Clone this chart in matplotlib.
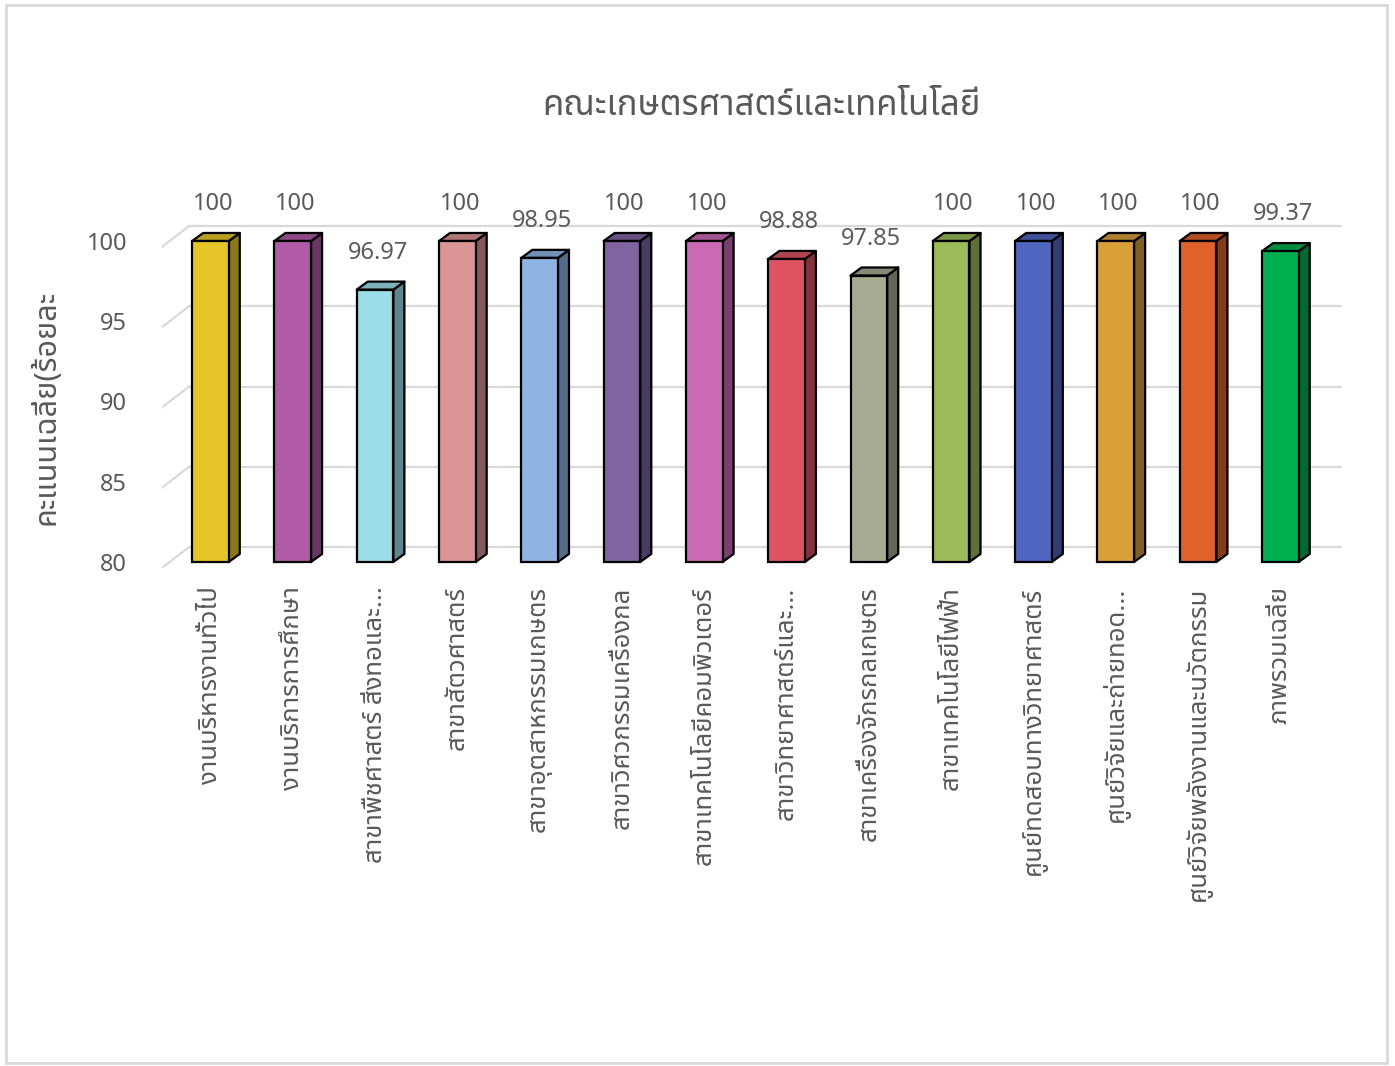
import matplotlib
matplotlib.use("Agg")
import matplotlib.pyplot as plt
from matplotlib.patches import Polygon, Rectangle

# ข้อมูล
categories = [
    "งานบริหารงานทั่วไป",
    "งานบริการการศึกษา",
    "สาขาพืชศาสตร์ สิ่งทอและ...",
    "สาขาสัตวศาสตร์",
    "สาขาอุตสาหกรรมเกษตร",
    "สาขาวิศวกรรมเครื่องกล",
    "สาขาเทคโนโลยีคอมพิวเตอร์",
    "สาขาวิทยาศาสตร์และ...",
    "สาขาเครื่องจักรกลเกษตร",
    "สาขาเทคโนโลยีไฟฟ้า",
    "ศูนย์ทดสอบทางวิทยาศาสตร์",
    "ศูนย์วิจัยและถ่ายทอด...",
    "ศูนย์วิจัยพลังงานและนวัตกรรม",
    "ภาพรวมเฉลี่ย",
]
scores = [100, 100, 96.97, 100, 98.95, 100, 100, 98.88, 97.85, 100, 100, 100, 100, 99.37]
colors = ["#E6C627", "#B05AA8", "#9DDDE8", "#DA9594", "#8DB4E3", "#8064A2", "#CC69B4",
          "#E05363", "#A6AA91", "#9BBB59", "#4F65BE", "#D9A038", "#E0622A", "#00B050"]
yticks = [80, 85, 90, 95, 100]

title = "คณะเกษตรศาสตร์และเทคโนโลยี"
ylabel = "คะแนนเฉลี่ย(ร้อยละ"

thai = ["Noto Sans Thai", "Sarabun", "DejaVu Sans"]
num = ["Noto Sans", "DejaVu Sans"]
grey = "#595959"
gridc = "#D9D9D9"

def shade(c, f):
    r, g, b = matplotlib.colors.to_rgb(c)
    return (r * f, g * f, b * f)

fig = plt.figure(figsize=(13.95, 10.66), dpi=100)
fig.patches.append(Rectangle((0.004, 0.003), 0.99, 0.992, transform=fig.transFigure,
                             fill=False, edgecolor=gridc, lw=2))
ax = fig.add_axes([0.1161, 0.4668, 0.846, 0.3297])
ax.set_xlim(-0.589, 13.75)
ax.set_ylim(79.6, 101.5)
for s in ax.spines.values():
    s.set_visible(False)

# เส้นกริดแบบ 3 มิติ
gx0, gx1, ddx, ddy0, ddy1 = -0.589, -0.26, 13.75, -0.37, 0.93
for t in yticks:
    ax.plot([gx0, gx1], [t + ddy0, t + ddy1], color=gridc, lw=1.6, zorder=1)
    ax.plot([gx1, ddx], [t + ddy1, t + ddy1], color=gridc, lw=1.6, zorder=1)

# แท่งกราฟ 3 มิติ
w, dx, dy = 0.445, 0.134, 0.5
xs = list(range(len(categories)))
ax.bar(xs, [v - 80 for v in scores], bottom=80, width=w, color=colors,
       edgecolor="black", lw=1.6, zorder=3)
for x, v, c in zip(xs, scores, colors):
    side = [(x + w / 2, 80), (x + w / 2 + dx, 80 + dy), (x + w / 2 + dx, v + dy), (x + w / 2, v)]
    top = [(x - w / 2, v), (x - w / 2 + dx, v + dy), (x + w / 2 + dx, v + dy), (x + w / 2, v)]
    ax.add_patch(Polygon(side, closed=True, facecolor=shade(c, 0.6), edgecolor="black",
                         lw=1.6, zorder=2.5, joinstyle="round"))
    ax.add_patch(Polygon(top, closed=True, facecolor=shade(c, 0.8), edgecolor="black",
                         lw=1.6, zorder=2.5, joinstyle="round"))
    ax.text(x + 0.03, v + 2.3, f"{v:g}", ha="center", va="center", fontsize=17,
            color=grey, family=num)

ax.set_yticks(yticks)
ax.set_yticklabels([str(t) for t in yticks], family=num, fontsize=17, color=grey)
ax.set_xticks(xs)
ax.set_xticklabels(categories, rotation=90, family=thai, fontsize=18.5, color=grey,
                   va="top", ha="center")
ax.tick_params(axis="y", length=0, pad=25)
ax.tick_params(axis="x", length=0, pad=13)

fig.text(0.546, 0.901, title, ha="center", va="center", fontsize=25, color=grey, family=thai)
fig.text(0.033, 0.618, ylabel, ha="center", va="center", rotation=90, fontsize=22,
         color=grey, family=thai, fontweight="bold")

fig.savefig("out.png", dpi=100)
